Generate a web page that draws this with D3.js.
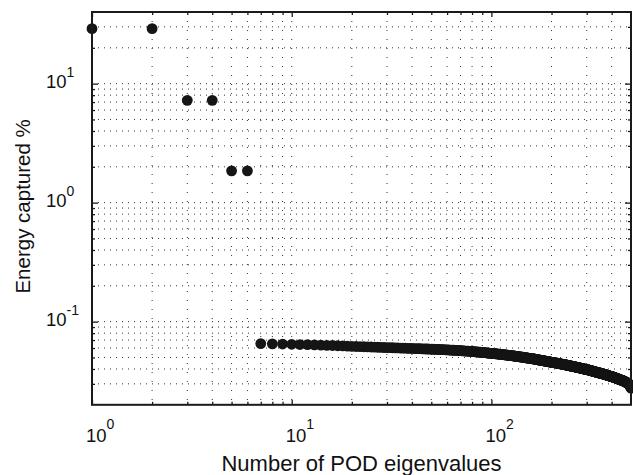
<!DOCTYPE html>
<html>
<head>
<meta charset="utf-8">
<script src="https://cdn.jsdelivr.net/npm/d3@7"></script>
<style>
  body { margin: 0; background: #fff; }
  svg { display: block; font-family: "Liberation Sans", Arial, sans-serif; }
</style>
</head>
<body>
<script>
// energy captured (%) for each POD eigenvalue, index n = 1, 2, 3, ...
var leading = [28.97, 28.97, 7.24, 7.24, 1.85, 1.85];
var tail = [
  0.0654,0.0651,0.0648,0.0645,
  0.0642,0.0640,0.0637,0.0635,0.0632,0.0630,0.0627,0.0625,0.0622,0.0620,
  0.0618,0.0617,0.0615,0.0614,0.0612,0.0611,0.0609,0.0608,0.0606,0.0605,
  0.0604,0.0603,0.0602,0.0601,0.0600,0.0599,0.0598,0.0597,0.0596,0.0595,
  0.0594,0.0593,0.0593,0.0592,0.0591,0.0590,0.0589,0.0589,0.0588,0.0587,
  0.0586,0.0585,0.0585,0.0584,0.0583,0.0582,0.0581,0.0581,0.0580,0.0579,
  0.0578,0.0577,0.0576,0.0575,0.0575,0.0574,0.0573,0.0572,0.0571,0.0570,
  0.0569,0.0568,0.0567,0.0566,0.0566,0.0565,0.0564,0.0563,0.0562,0.0561,
  0.0560,0.0559,0.0558,0.0557,0.0556,0.0555,0.0554,0.0553,0.0552,0.0551,
  0.0550,0.0549,0.0548,0.0547,0.0546,0.0545,0.0544,0.0543,0.0542,0.0541,
  0.0540,0.0539,0.0538,0.0538,0.0537,0.0536,0.0535,0.0534,0.0533,0.0532,
  0.0531,0.0530,0.0529,0.0529,0.0528,0.0527,0.0526,0.0525,0.0524,0.0523,
  0.0522,0.0521,0.0520,0.0520,0.0519,0.0518,0.0517,0.0516,0.0515,0.0514,
  0.0513,0.0512,0.0511,0.0511,0.0510,0.0509,0.0508,0.0507,0.0506,0.0505,
  0.0504,0.0503,0.0502,0.0502,0.0501,0.0500,0.0499,0.0498,0.0497,0.0496,
  0.0495,0.0494,0.0494,0.0493,0.0492,0.0491,0.0490,0.0490,0.0489,0.0488,
  0.0487,0.0486,0.0485,0.0485,0.0484,0.0483,0.0482,0.0481,0.0480,0.0479,
  0.0478,0.0477,0.0477,0.0476,0.0475,0.0474,0.0473,0.0473,0.0472,0.0471,
  0.0470,0.0469,0.0469,0.0468,0.0467,0.0466,0.0465,0.0465,0.0464,0.0463,
  0.0462,0.0461,0.0461,0.0460,0.0459,0.0459,0.0458,0.0457,0.0457,0.0456,
  0.0455,0.0455,0.0454,0.0453,0.0453,0.0452,0.0451,0.0451,0.0450,0.0450,
  0.0449,0.0448,0.0448,0.0447,0.0446,0.0446,0.0445,0.0444,0.0444,0.0443,
  0.0442,0.0442,0.0441,0.0440,0.0440,0.0439,0.0439,0.0438,0.0437,0.0437,
  0.0436,0.0435,0.0435,0.0434,0.0433,0.0433,0.0432,0.0431,0.0431,0.0430,
  0.0430,0.0429,0.0428,0.0428,0.0427,0.0426,0.0426,0.0425,0.0424,0.0424,
  0.0423,0.0423,0.0422,0.0422,0.0421,0.0420,0.0420,0.0419,0.0419,0.0418,
  0.0418,0.0417,0.0416,0.0416,0.0415,0.0415,0.0414,0.0413,0.0413,0.0412,
  0.0412,0.0411,0.0411,0.0410,0.0409,0.0409,0.0408,0.0408,0.0407,0.0407,
  0.0406,0.0405,0.0405,0.0404,0.0404,0.0403,0.0402,0.0402,0.0401,0.0401,
  0.0400,0.0400,0.0399,0.0398,0.0398,0.0397,0.0397,0.0397,0.0396,0.0396,
  0.0395,0.0395,0.0394,0.0394,0.0393,0.0393,0.0392,0.0391,0.0391,0.0390,
  0.0390,0.0389,0.0389,0.0388,0.0388,0.0387,0.0386,0.0386,0.0385,0.0385,
  0.0384,0.0384,0.0383,0.0383,0.0382,0.0381,0.0381,0.0380,0.0380,0.0379,
  0.0379,0.0378,0.0378,0.0377,0.0376,0.0376,0.0375,0.0375,0.0374,0.0374,
  0.0373,0.0373,0.0372,0.0372,0.0371,0.0371,0.0371,0.0370,0.0370,0.0370,
  0.0369,0.0369,0.0368,0.0368,0.0367,0.0367,0.0366,0.0366,0.0365,0.0365,
  0.0364,0.0364,0.0363,0.0363,0.0362,0.0362,0.0361,0.0361,0.0360,0.0360,
  0.0359,0.0359,0.0358,0.0358,0.0357,0.0357,0.0356,0.0356,0.0355,0.0355,
  0.0354,0.0354,0.0353,0.0353,0.0352,0.0352,0.0351,0.0351,0.0350,0.0350,
  0.0349,0.0349,0.0348,0.0348,0.0348,0.0347,0.0347,0.0346,0.0346,0.0346,
  0.0345,0.0345,0.0344,0.0344,0.0343,0.0343,0.0342,0.0342,0.0341,0.0341,
  0.0340,0.0340,0.0339,0.0339,0.0338,0.0338,0.0337,0.0337,0.0336,0.0336,
  0.0335,0.0335,0.0334,0.0334,0.0333,0.0333,0.0332,0.0332,0.0331,0.0331,
  0.0330,0.0330,0.0329,0.0329,0.0328,0.0328,0.0327,0.0327,0.0326,0.0326,
  0.0325,0.0325,0.0324,0.0324,0.0324,0.0323,0.0323,0.0322,0.0322,0.0322,
  0.0321,0.0321,0.0320,0.0320,0.0319,0.0319,0.0318,0.0318,0.0317,0.0317,
  0.0316,0.0316,0.0315,0.0314,0.0314,0.0313,0.0313,0.0312,0.0312,0.0311,
  0.0310,0.0310,0.0309,0.0309,0.0308,0.0308,0.0307,0.0306,0.0306,0.0305,
  0.0304,0.0303,0.0302,0.0301,0.0301,0.0300,0.0299,0.0298,0.0297,0.0296,
  0.0295,0.0294,0.0292,0.0291,0.0289,0.0288,0.0286,0.0283,0.0280,0.0276
];
var energy = leading.concat(tail);

var xMajor = [1, 10, 100];
var xMinor = [2,3,4,5,6,7,8,9, 20,30,40,50,60,70,80,90, 200,300,400];
var yMajor = [0.1, 1, 10];
var yMinor = [0.03,0.04,0.05,0.06,0.07,0.08,0.09, 0.2,0.3,0.4,0.5,0.6,0.7,0.8,0.9, 2,3,4,5,6,7,8,9, 20,30];
var xExps = ["0", "1", "2"];
var yExps = ["-1", "0", "1"];

var W = 633, H = 475;
var pL = 92, pR = 631, pT = 12, pB = 404.8;

var x = d3.scaleLog().domain([1, 500]).range([pL, pR]);
var y = d3.scaleLog().domain([0.02, 40]).range([pB, pT]);

var svg = d3.select("body").append("svg")
    .attr("width", W)
    .attr("height", H);

// dotted grid
var grid = svg.append("g")
    .attr("stroke", "#333")
    .attr("stroke-width", 1)
    .attr("fill", "none");

grid.selectAll("line.gx")
  .data(xMajor.concat(xMinor).filter(d => d > 1))
  .join("line")
    .attr("class", "gx")
    .attr("x1", d => x(d)).attr("x2", d => x(d))
    .attr("y1", pT).attr("y2", pB)
    .attr("stroke-dasharray", "1 8");

grid.selectAll("line.gy")
  .data(yMajor.concat(yMinor))
  .join("line")
    .attr("class", "gy")
    .attr("y1", d => y(d)).attr("y2", d => y(d))
    .attr("x1", pL).attr("x2", pR)
    .attr("stroke-dasharray", "1 5");

// markers
svg.append("g")
    .attr("fill", "#151515")
  .selectAll("circle")
  .data(energy)
  .join("circle")
    .attr("cx", (d, i) => x(i + 1))
    .attr("cy", d => y(d))
    .attr("r", 5.4);

// axes with inward ticks on all four sides
function ticks(make, scale, vals, size) {
  return make(scale).tickValues(vals).tickSize(size).tickSizeOuter(0).tickFormat("");
}
var axes = [
  [d3.axisBottom, x, `translate(0,${pB})`, xMajor, xMinor, -5, -3],
  [d3.axisTop, x, `translate(0,${pT})`, xMajor, xMinor, -5, -3],
  [d3.axisLeft, y, `translate(${pL},0)`, yMajor, yMinor, -6, -3],
  [d3.axisRight, y, `translate(${pR},0)`, yMajor, yMinor, -6, -3]
];
axes.forEach(a => {
  var g1 = svg.append("g").attr("transform", a[2]).call(ticks(a[0], a[1], a[3], a[5]));
  var g2 = svg.append("g").attr("transform", a[2]).call(ticks(a[0], a[1], a[4], a[6]));
  [g1, g2].forEach(g => {
    g.select(".domain").remove();
    g.selectAll("line").attr("stroke", "#1a1a1a").attr("stroke-width", 1.3);
  });
});

svg.append("rect")
    .attr("x", pL).attr("y", pT)
    .attr("width", pR - pL).attr("height", pB - pT)
    .attr("fill", "none")
    .attr("stroke", "#1a1a1a")
    .attr("stroke-width", 2);

// tick labels
var xl = svg.append("g").attr("fill", "#111");
xMajor.forEach((v, i) => {
  var t = xl.append("text")
      .attr("x", x(v) - 6)
      .attr("y", 442)
      .attr("font-size", 18.5);
  t.append("tspan").text("10");
  t.append("tspan").attr("dy", -13).attr("font-size", 14).text(xExps[i]);
});

var yl = svg.append("g").attr("fill", "#111");
yMajor.forEach((v, i) => {
  var t = yl.append("text")
      .attr("x", 46)
      .attr("y", y(v) + 4)
      .attr("font-size", 18.5);
  t.append("tspan").text("10");
  t.append("tspan").attr("dy", -10.5).attr("font-size", 14).text(yExps[i]);
});

// axis titles
svg.append("text")
    .attr("x", (pL + pR) / 2)
    .attr("y", 471)
    .attr("text-anchor", "middle")
    .attr("font-size", 22)
    .attr("fill", "#111")
    .text("Number of POD eigenvalues");

svg.append("text")
    .attr("transform", `translate(29.5,${(pT + pB) / 2 - 2}) rotate(-90)`)
    .attr("text-anchor", "middle")
    .attr("font-size", 20.5)
    .attr("fill", "#111")
    .text("Energy captured %");
</script>
</body>
</html>
